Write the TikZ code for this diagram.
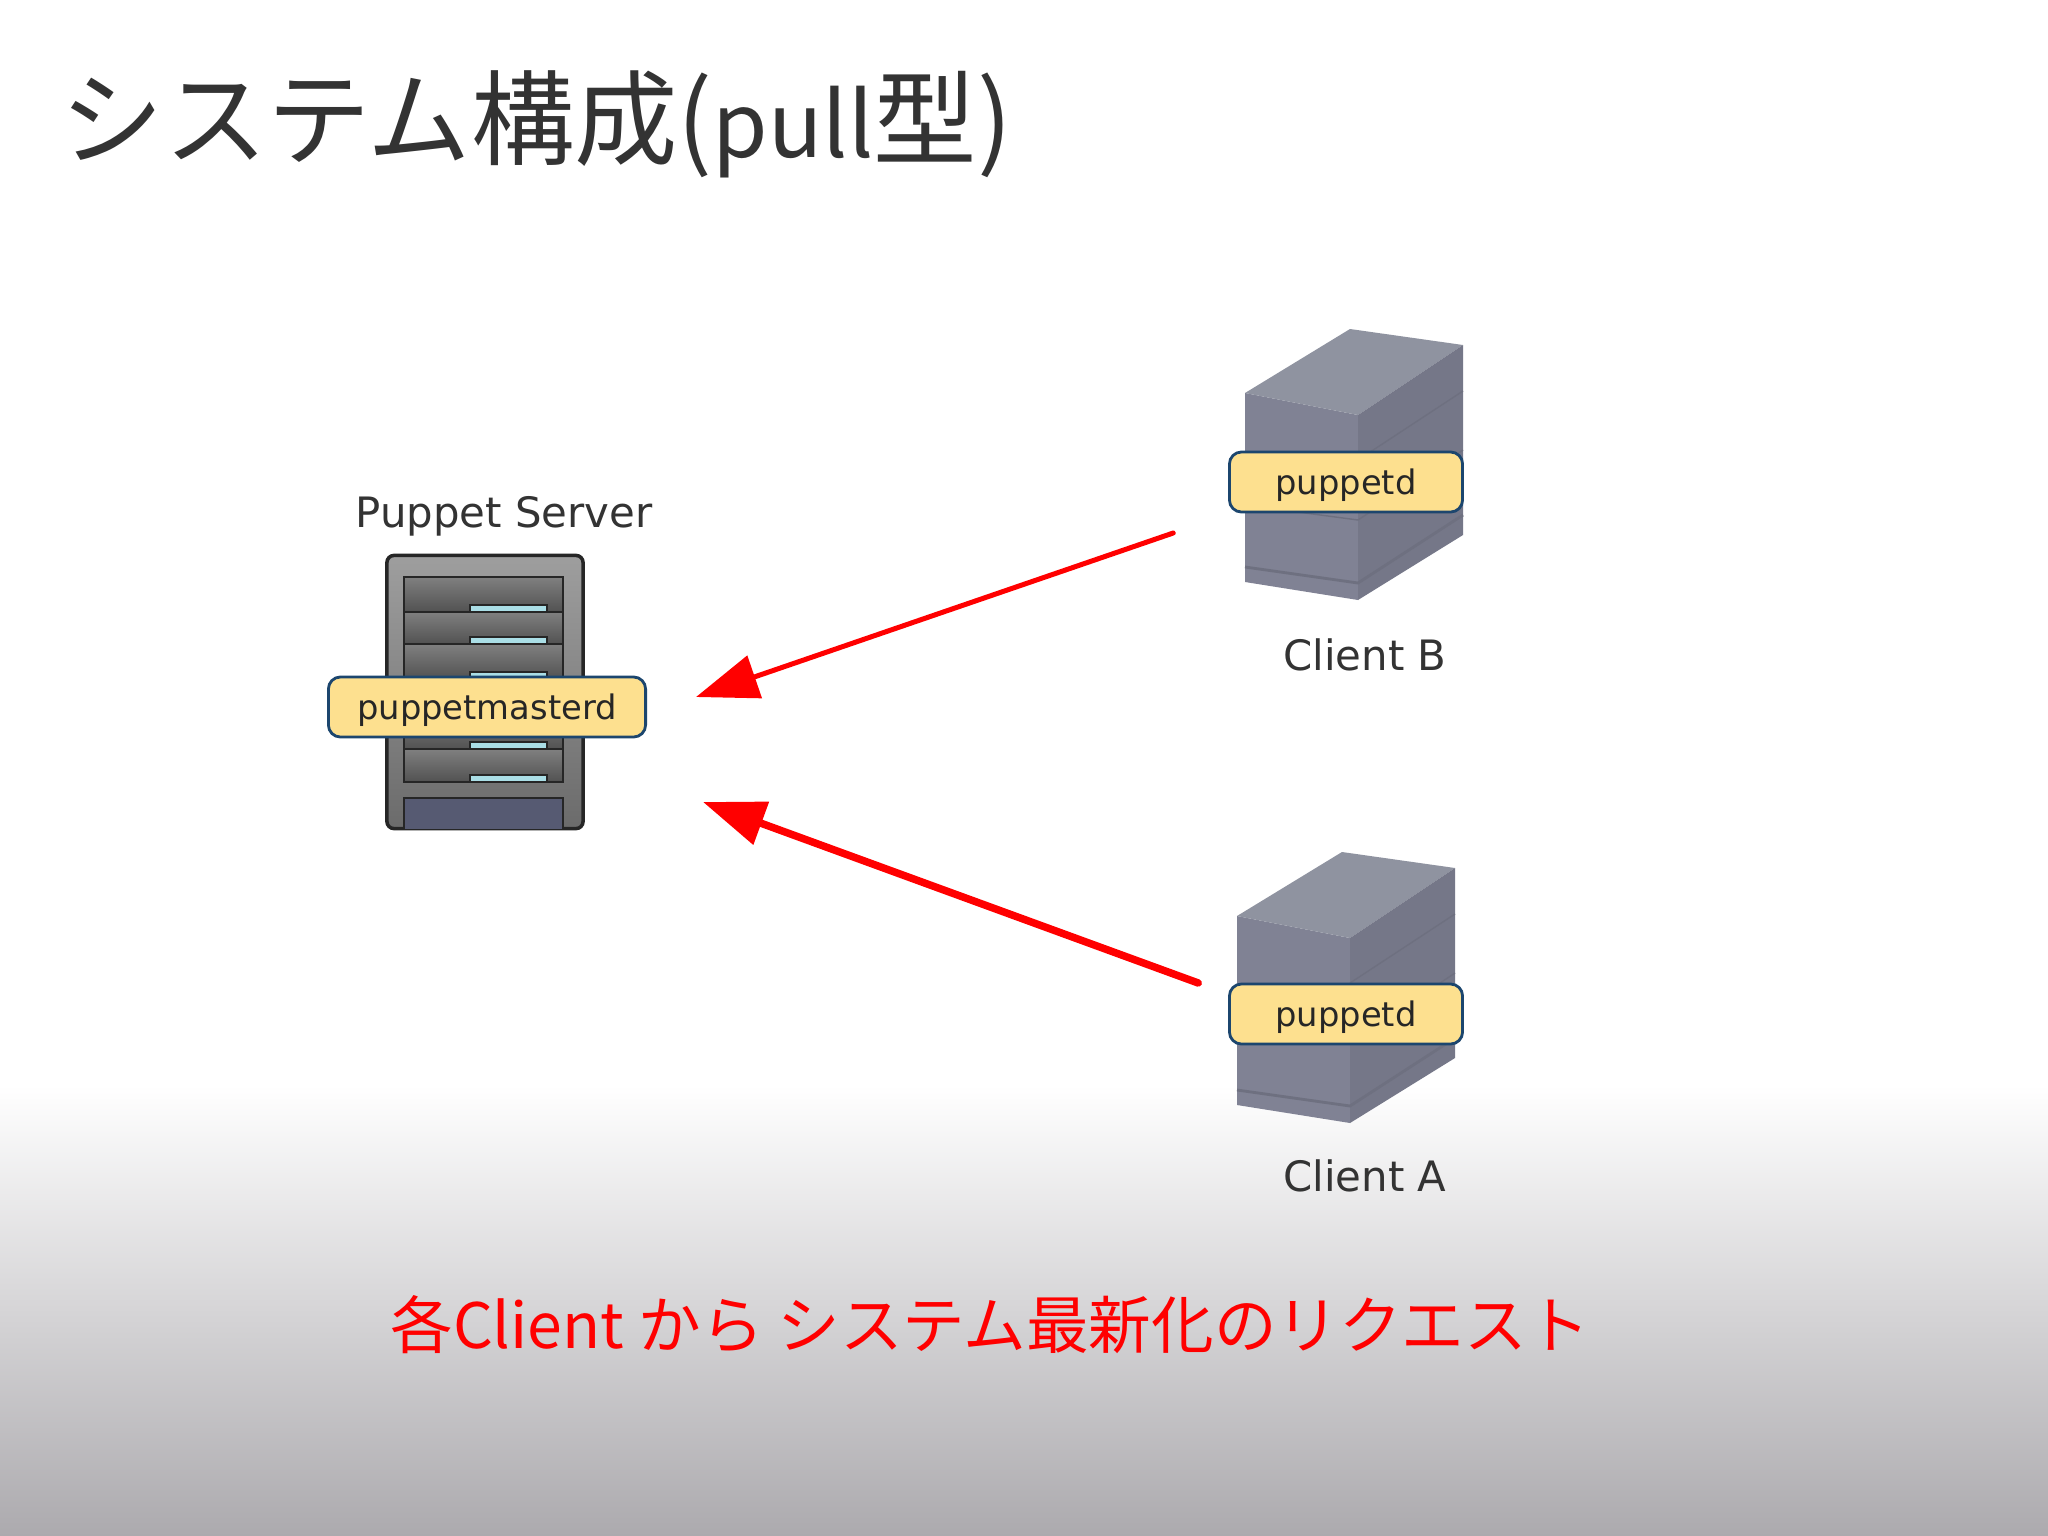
\documentclass[tikz,border=0pt]{standalone}
\usepackage{fontspec}
\setmainfont{DejaVu Sans}
\newfontfamily\cjk{Noto Sans CJK JP}
\usetikzlibrary{arrows.meta,calc,positioning}
\definecolor{titleColor}{RGB}{51,51,51}
\definecolor{labelColor}{RGB}{253,224,143}
\definecolor{labelBorder}{RGB}{28,70,110}
\definecolor{floorColor}{RGB}{172,170,174}
\definecolor{baseColor}{RGB}{86,90,114}
\definecolor{ledColor}{RGB}{170,222,230}
\definecolor{topFace}{RGB}{143,147,160}
\definecolor{frontFace}{RGB}{128,130,148}
\definecolor{sideFace}{RGB}{117,119,136}
\definecolor{bandColor}{RGB}{110,112,128}
\tikzset{caption/.style={font=\fontsize{11.9pt}{13pt}\selectfont, text=black!80, inner sep=0pt}}
\tikzset{daemon/.style={fill=labelColor, draw=labelBorder, line width=.8pt, rounded corners=.12cm, font=\fontsize{9.6pt}{12pt}\selectfont, text=black!85, inner sep=0pt, text height=.3cm, text depth=.06cm, minimum height=.6cm}}
\tikzset{machine/.style={inner sep=0pt, minimum width=2.2cm, minimum height=2.72cm}}
\tikzset{request/.style={draw=red, line cap=round, -{Triangle[length=.62cm, width=.44cm]}}}
\tikzset{slotbox/.style={draw=black!85, line width=.8pt, top color=black!50, bottom color=black!68}}
\tikzset{ledbox/.style={draw=black!85, line width=.5pt, fill=ledColor}}

\begin{document}
\begin{tikzpicture}[x=.01cm, y=-.01cm]
\useasboundingbox (0,0) rectangle (2048,1536);
\fill[white] (0,0) rectangle (2048,1536);
\shade[top color=white, bottom color=floorColor] (0,1085) rectangle (2048,1536);

% Nodes
\node (Title) [anchor=west, inner sep=0pt, text=titleColor, font=\cjk\fontsize{29.4pt}{32pt}\selectfont] at (60,124) {システム構成({\fontsize{25.5pt}{32pt}\selectfont pull}型)};

\node (PuppetServer) [inner sep=0pt, minimum width=1.96cm, minimum height=2.73cm, rounded corners=.07cm, draw=black!85, line width=1pt, top color=black!38, bottom color=black!58] at (485,692) {};
\foreach \slottop/\slotbottom in {577/612, 612/644, 644/679, 679/714, 714/749, 749/782} {
  \draw[slotbox] (404,\slottop) rectangle (563,\slotbottom);
  \draw[ledbox] (470,\slotbottom-7) rectangle (547,\slotbottom);
}
\draw[draw=black!85, line width=.8pt, fill=baseColor] (404,829) -- (404,798) -- (563,798) -- (563,829);
\node (ServerName) [caption, above=.17cm of PuppetServer.north, xshift=.19cm] {Puppet Server};
\node (MasterDaemon) [daemon, minimum width=3.17cm] at (487,707) {puppetmasterd};

\foreach \name/\xpos/\ypos in {ClientB/1353/465, ClientA/1345/988} {
  \node (\name) [machine] at (\xpos,\ypos) {};
  \begin{scope}[shift={(\name.center)}]
    \fill[frontFace] (-108,-72) -- (5,-50) -- (5,135) -- (-108,117) -- cycle;
    \fill[topFace] (-108,-72) -- (-3,-136) -- (110,-120) -- (5,-50) -- cycle;
    \fill[sideFace] (5,-50) -- (110,-120) -- (110,70) -- (5,135) -- cycle;
    \draw[bandColor, line width=.4pt] (5,-5) -- (110,-74);
    \draw[bandColor, line width=.4pt] (-108,40) -- (5,55);
    \draw[bandColor, line width=.4pt] (5,55) -- (110,-15);
    \draw[bandColor, line width=.8pt] (-108,102) -- (5,118) -- (110,50);
  \end{scope}
}
\node (BDaemon) [daemon, minimum width=2.33cm] at (1346,482) {puppetd};
\node (ADaemon) [daemon, minimum width=2.33cm] at (1346,1014) {puppetd};
\node (ClientBName) [caption] at (1365,655) {Client B};
\node (ClientAName) [caption] at (1365,1176) {Client A};

\node (Request) [text=red, inner sep=0pt, font=\cjk\fontsize{17.8pt}{20pt}\selectfont] at (990,1325) {各Client から システム最新化のリクエスト};

% Connectors
\draw [request, line width=.05cm] ([shift={(-69,68)}]ClientB.west) -- ([shift={(49,-10)}]MasterDaemon.east);
\draw [request, line width=.075cm] ([shift={(-36,-5)}]ClientA.west) -- ([shift={(56,95)}]MasterDaemon.east);

\end{tikzpicture}
\end{document}
